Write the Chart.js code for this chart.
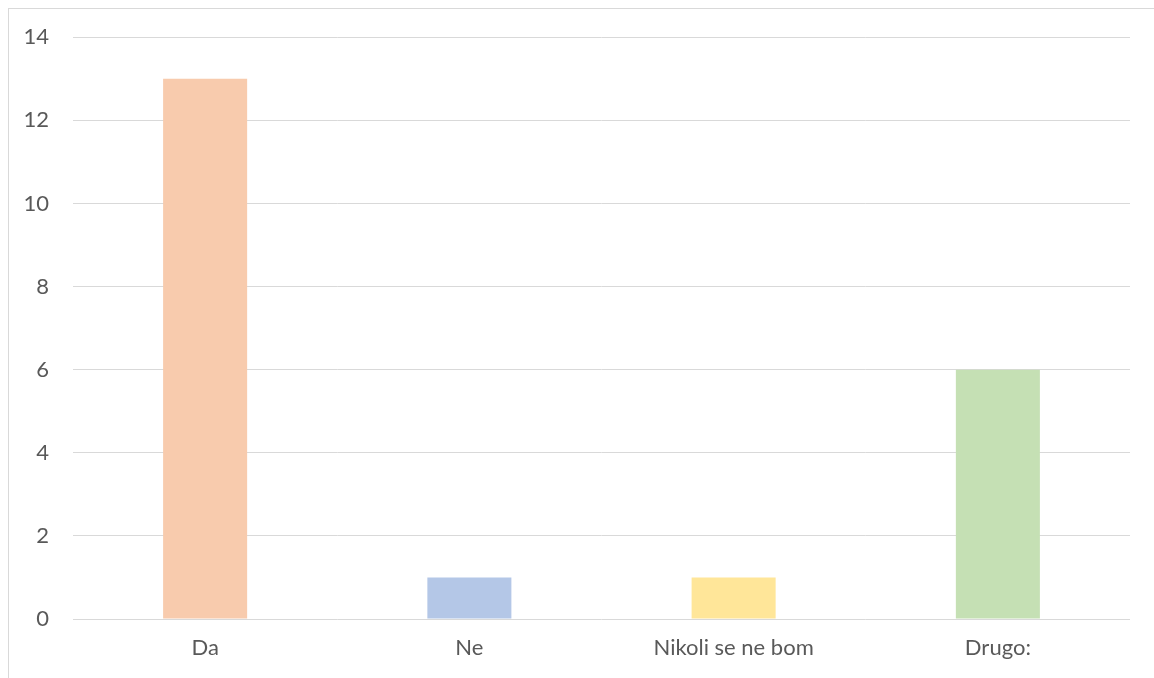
<!DOCTYPE html>
<html>
<head>
<meta charset="utf-8">
<script src="https://cdn.jsdelivr.net/npm/chart.js"></script>
<style>
  html, body { margin: 0; padding: 0; background: #fff; }
  #wrap { width: 1154px; height: 678px; position: relative; }
</style>
</head>
<body>
<div id="wrap"><canvas id="bars"></canvas></div>
<script>
const categories = ['Da', 'Ne', 'Nikoli se ne bom', 'Drugo:'];
const answers = [13, 1, 1, 6];
const barColors = ['#F8CBAD', '#B4C7E7', '#FFE699', '#C5E0B4'];

// thin frame around the whole chart
const frame = {
  id: 'frame',
  beforeDraw(chart) {
    const ctx = chart.ctx;
    ctx.save();
    ctx.fillStyle = '#fff';
    ctx.fillRect(0, 0, chart.width, chart.height);
    ctx.strokeStyle = '#d9d9d9';
    ctx.lineWidth = 1;
    ctx.strokeRect(8.5, 8.5, chart.width + 20, chart.height + 20);
    ctx.restore();
  }
};

const barConfig = {
  type: 'bar',
  data: {
    labels: categories,
    datasets: [
      {
        data: answers,
        backgroundColor: barColors,
        categoryPercentage: 1,
        barPercentage: 0.318,
      },
    ],
  },
  options: {
    responsive: true,
    maintainAspectRatio: false,
    animation: false,
    layout: { padding: { top: 30, right: 24, left: 0, bottom: 0 } },
    plugins: {
      legend: { display: false },
      tooltip: { enabled: false },
    },
    scales: {
      x: {
        grid: { display: false },
        border: { display: false },
        ticks: {
          color: '#595959',
          font: { family: 'Lato', size: 22 },
          padding: 8,
        },
        afterFit(scale) { scale.height = 59; },
      },
      y: {
        min: 0,
        max: 14,
        ticks: {
          stepSize: 2,
          color: '#595959',
          font: { family: 'Lato', size: 22 },
          padding: 24,
        },
        grid: { color: '#d9d9d9', lineWidth: 1, drawTicks: false },
        border: { display: false },
        afterFit(scale) { scale.width = 73; },
      },
    },
  },
  plugins: [frame],
};

window.myBars = new Chart(document.getElementById('bars'), barConfig);
</script>
</body>
</html>
